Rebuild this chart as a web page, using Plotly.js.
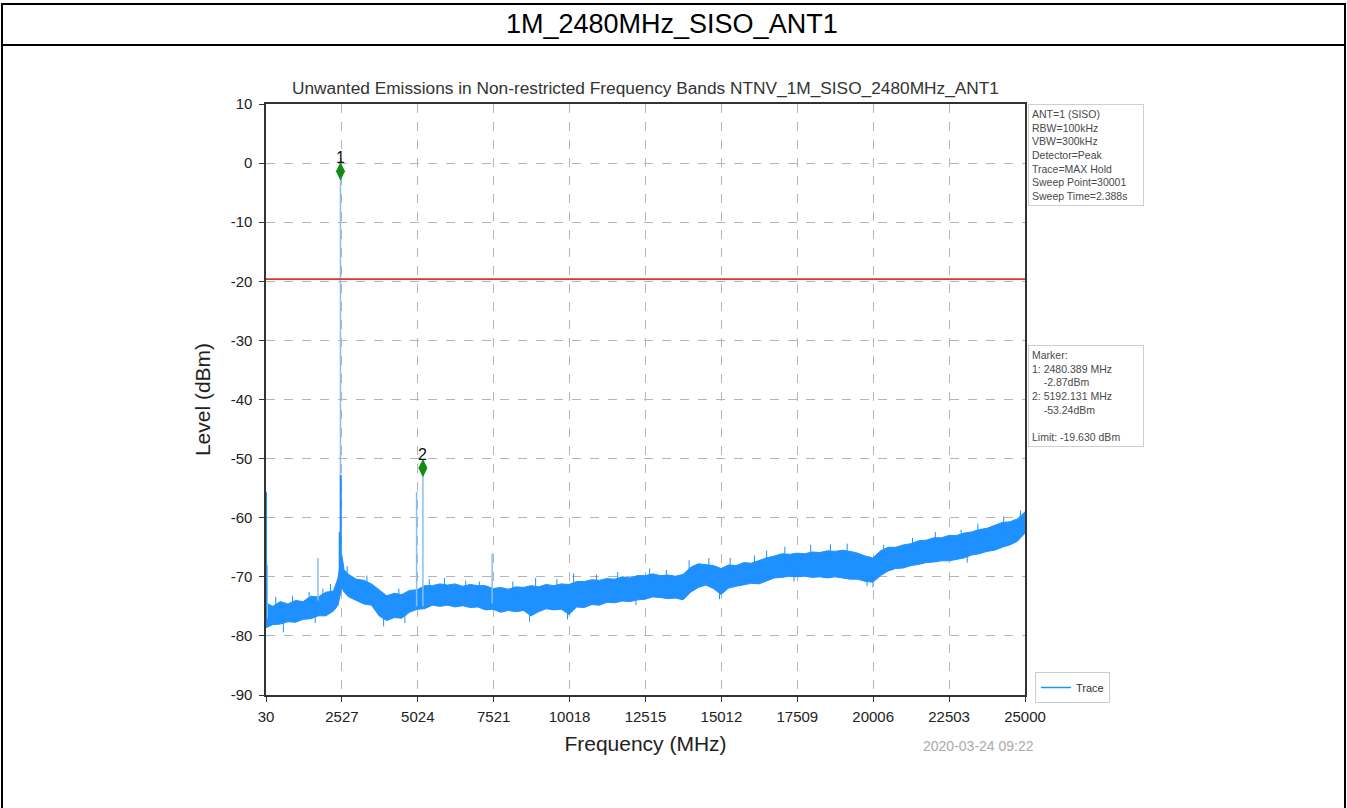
<!DOCTYPE html>
<html>
<head>
<meta charset="utf-8">
<script src="https://cdn.plot.ly/plotly-3.0.1.min.js"></script>
<style>
html,body{margin:0;padding:0;background:#fff;}
#chart{width:1347px;height:808px;}
</style>
</head>
<body>
<div id="chart"></div>
<script>
// ---- data ----
const pageTitle = "1M_2480MHz_SISO_ANT1";
const chartTitle = "Unwanted Emissions in Non-restricted Frequency Bands NTNV_1M_SISO_2480MHz_ANT1";
const xTickVals = [30, 2527, 5024, 7521, 10018, 12515, 15012, 17509, 20006, 22503, 25000];
const yTickVals = [-90, -80, -70, -60, -50, -40, -30, -20, -10, 0, 10];
const yTickText = ["-90", "-80", "-70", "-60", "-50", "-40", "-30", "-20", "-10", "0", "10"];

// noise floor band (MHz) with its upper and lower edges (dBm)
const bandFreq = [
  30, 250, 500, 750, 1000, 1250, 1500, 1750, 2000, 2250,
  2400, 2470, 2520, 2600, 2750, 3000, 3250, 3500, 3750, 4000,
  4250, 4500, 4750, 5000, 5250, 5500, 5750, 6000, 6250, 6500,
  6750, 7000, 7250, 7500, 7750, 8000, 8250, 8500, 8750, 9000,
  9250, 9500, 9750, 10000, 10250, 10500, 10750, 11000, 11250, 11500,
  11750, 12000, 12250, 12500, 12750, 13000, 13250, 13500, 13750, 14000,
  14250, 14500, 14750, 15000, 15250, 15500, 15750, 16000, 16250, 16500,
  16750, 17000, 17250, 17500, 17750, 18000, 18250, 18500, 18750, 19000,
  19250, 19500, 19750, 20000, 20250, 20500, 20750, 21000, 21250, 21500,
  21750, 22000, 22250, 22500, 22750, 23000, 23250, 23500, 23750, 24000,
  24250, 24500, 24750, 25000];
const bandUpper = [
  -74.4, -75.0, -74.2, -74.6, -74.0, -74.2, -73.3, -73.4, -72.6, -72.4,
  -70.2, -68.0, -66.2, -68.8, -69.6, -70.4, -70.6, -71.2, -72.2, -73.2,
  -72.8, -73.0, -72.3, -72.2, -71.5, -71.5, -71.2, -71.4, -71.2, -71.6,
  -71.3, -71.5, -71.5, -72.0, -71.8, -72.1, -71.7, -71.8, -71.5, -71.7,
  -71.3, -71.5, -71.2, -71.3, -70.8, -70.8, -70.5, -70.6, -70.3, -70.4,
  -70.0, -70.2, -69.8, -69.8, -69.5, -69.8, -69.7, -69.9, -69.6, -68.4,
  -67.8, -68.0, -68.1, -68.6, -68.0, -68.1, -67.6, -67.7, -67.2, -66.8,
  -66.5, -66.1, -66.2, -66.0, -66.1, -65.8, -65.9, -65.6, -65.7, -65.5,
  -65.7, -66.0, -66.5, -66.8, -65.6, -65.0, -65.0, -64.6, -64.4, -63.9,
  -63.8, -63.4, -63.4, -63.0, -63.0, -62.6, -62.4, -62.0, -61.8, -61.3,
  -60.8, -60.7, -60.2, -59.0];
const bandLower = [
  -78.6, -78.1, -78.0, -77.6, -77.7, -77.2, -77.1, -76.6, -76.6, -75.8,
  -74.8, -73.0, -71.8, -72.6, -73.4, -74.0, -74.6, -74.8, -76.6, -77.4,
  -76.9, -77.0, -76.0, -75.5, -75.4, -74.8, -75.0, -74.8, -75.1, -74.9,
  -75.2, -75.1, -75.6, -75.5, -76.0, -75.7, -75.9, -75.7, -76.6, -75.9,
  -75.4, -75.6, -75.5, -76.4, -75.1, -75.2, -74.7, -74.8, -74.3, -74.4,
  -74.1, -74.2, -73.9, -73.8, -73.4, -73.5, -73.7, -73.6, -73.9, -72.6,
  -71.8, -71.4, -72.0, -73.0, -71.9, -71.6, -71.4, -71.1, -71.2, -70.7,
  -70.2, -70.1, -69.9, -70.0, -69.9, -70.1, -70.0, -70.2, -70.0, -70.2,
  -70.4, -70.4, -70.8, -70.9, -69.8, -69.0, -68.6, -68.5, -68.1, -67.9,
  -67.6, -67.5, -67.3, -67.3, -67.0, -66.8, -66.3, -66.1, -65.7, -65.5,
  -65.0, -64.6, -64.0, -62.6];

// small noise peaks above the band (MHz, top dBm, foot dBm)
const grassFreq = [350, 900, 1450, 1900, 2150, 2700, 3350, 4400, 5400, 5900, 6600, 7050, 8150, 8900, 9600, 10150, 10900, 11600, 12650, 13200, 13950, 14600, 15300, 16100, 16500, 17100, 17950, 18600, 19150, 20350, 21300, 22050, 22900, 23450, 24300, 24850];
const grassTop  = [-73.4, -73.2, -72.6, -72.0, -71.2, -68.2, -69.8, -72.0, -70.4, -70.2, -70.6, -70.8, -70.8, -70.2, -70.4, -69.4, -69.6, -69.2, -68.6, -68.8, -67.2, -66.8, -66.8, -66.4, -65.6, -64.9, -64.6, -64.5, -64.4, -64.6, -63.4, -62.4, -62.0, -61.0, -59.8, -58.8];
const grassFoot = [-76.0, -76.0, -75.5, -75.0, -74.0, -71.5, -73.0, -75.0, -73.5, -73.5, -73.5, -73.5, -74.0, -73.5, -73.5, -72.5, -72.5, -72.0, -71.5, -71.5, -70.5, -70.0, -70.0, -69.5, -69.0, -68.5, -68.0, -68.0, -68.0, -67.5, -66.5, -65.5, -65.0, -64.5, -63.5, -62.0];
// small dips below the band (MHz, bottom dBm, foot dBm)
const dipFreq   = [600, 1650, 3900, 4600, 8700, 9950, 12200, 14950, 17400, 19800, 20000, 23100];
const dipBottom = [-79.4, -77.8, -78.4, -77.8, -77.6, -77.2, -74.8, -73.8, -70.8, -71.6, -71.8, -67.6];
const dipFoot   = [-76.5, -75.0, -75.5, -75.0, -74.5, -74.5, -72.0, -71.0, -68.5, -69.0, -69.0, -65.0];

// narrow spurs: frequency, top and foot level
const spurFreq = [70, 1740, 2480, 4985, 5192, 7470];
const spurTop  = [-68.0, -66.8, -2.0, -55.6, -51.6, -66.0];
const spurFoot = [-77.0, -74.0, -72.0, -75.0, -75.0, -74.5];
// darker (denser) parts: start edge and carrier skirt
const skirtFreq = [30, 2455, 2490];
const skirtTop  = [-55.6, -62.4, -52.8];
const skirtFoot = [-77.5, -73.0, -72.0];

// markers
const markerFreq = [2480.389, 5192.131];
const markerPlotLevel = [-1.4, -51.6];
const markerLabel = ["1", "2"];
const limitLevel = -19.630;

const infoLines = ["ANT=1 (SISO)", "RBW=100kHz", "VBW=300kHz", "Detector=Peak", "Trace=MAX Hold", "Sweep Point=30001", "Sweep Time=2.388s"];
const markerLines = ["Marker:", "1: 2480.389 MHz", "    -2.87dBm", "2: 5192.131 MHz", "    -53.24dBm", " ", "Limit: -19.630 dBm"];
const dateStamp = "2020-03-24 09:22";

// ---- layout helpers (pixel -> paper) ----
const W = 1347, H = 808;
const PL = 266, PR = 1025, PT = 104, PB = 695;
const px2x = p => (p - PL) / (PR - PL);
const py2y = p => (PB - p) / (PB - PT);

function segs(fr, top, foot) {
  const x = [], y = [];
  for (let i = 0; i < fr.length; i++) { x.push(fr[i], fr[i], null); y.push(foot[i], top[i], null); }
  return {x, y};
}

const BLUE = '#1E90FF';
const font = "Arial, 'Liberation Sans', sans-serif";
const sp = segs(spurFreq, spurTop, spurFoot);
const sk = segs(skirtFreq, skirtTop, skirtFoot);
const gr = segs(grassFreq, grassTop, grassFoot);
const dp = segs(dipFreq, dipBottom, dipFoot);

const traces = [
  {x: bandFreq, y: bandUpper, mode: 'lines', line: {color: BLUE, width: 1}, showlegend: false, hoverinfo: 'skip'},
  {x: bandFreq, y: bandLower, mode: 'lines', fill: 'tonexty', fillcolor: BLUE, line: {color: BLUE, width: 1}, showlegend: false, hoverinfo: 'skip'},
  {x: gr.x, y: gr.y, mode: 'lines', line: {color: BLUE, width: 1}, showlegend: false, connectgaps: false, hoverinfo: 'skip'},
  {x: dp.x, y: dp.y, mode: 'lines', line: {color: BLUE, width: 1}, showlegend: false, connectgaps: false, hoverinfo: 'skip'},
  {x: sp.x, y: sp.y, mode: 'lines', line: {color: '#86c0f3', width: 1.5}, showlegend: false, connectgaps: false, hoverinfo: 'skip'},
  {x: sk.x, y: sk.y, mode: 'lines', line: {color: BLUE, width: 2}, showlegend: false, connectgaps: false, hoverinfo: 'skip'},
  {x: [xTickVals[0], xTickVals[xTickVals.length - 1]], y: [limitLevel, limitLevel], mode: 'lines', line: {color: '#e03530', width: 1.6}, showlegend: false, hoverinfo: 'skip'},
  {x: markerFreq, y: markerPlotLevel, mode: 'markers',
   marker: {symbol: 'diamond-tall', size: 13, color: '#138a13', line: {width: 0}}, showlegend: false, hoverinfo: 'skip'},
  {x: [null], y: [null], mode: 'lines', name: 'Trace', line: {color: BLUE, width: 1.5}, showlegend: true, hoverinfo: 'skip'}
];

const markerNotes = markerFreq.map((f, i) => ({
  text: markerLabel[i], x: f, y: markerPlotLevel[i], xref: 'x', yref: 'y', yshift: 14,
  xanchor: 'center', yanchor: 'middle', showarrow: false, font: {family: font, size: 16, color: '#111'}
}));

const layout = {
  width: W, height: H,
  margin: {l: PL, r: W - PR, t: PT, b: H - PB, pad: 0},
  paper_bgcolor: '#fff', plot_bgcolor: '#fff',
  font: {family: font, color: '#222'},
  title: {text: chartTitle, font: {family: font, size: 17.3, color: '#333'}, xref: 'paper', x: 0.5, xanchor: 'center', yref: 'container', y: 1 - 88 / H, yanchor: 'middle'},
  xaxis: {range: [xTickVals[0], xTickVals[xTickVals.length - 1]], tickmode: 'array', tickvals: xTickVals, ticktext: xTickVals.map(String),
    showgrid: true, gridcolor: '#b5b5b5', griddash: 'dash', gridwidth: 1, zeroline: false,
    showline: true, linecolor: '#333', linewidth: 1.6, mirror: true, ticks: 'outside', ticklen: 5, tickcolor: '#333',
    ticklabelstandoff: 2,
    tickfont: {family: font, size: 15, color: '#222'},
    title: {text: 'Frequency (MHz)', font: {family: font, size: 21, color: '#222'}, standoff: 13}},
  yaxis: {range: [yTickVals[0], yTickVals[yTickVals.length - 1]], tickmode: 'array', tickvals: yTickVals, ticktext: yTickText,
    showgrid: true, gridcolor: '#b5b5b5', griddash: 'dash', gridwidth: 1, zeroline: false,
    showline: true, linecolor: '#333', linewidth: 1.6, mirror: true, ticks: 'outside', ticklen: 5, tickcolor: '#333',
    ticklabelstandoff: 4,
    tickfont: {family: font, size: 15, color: '#222'},
    title: {text: 'Level (dBm)', font: {family: font, size: 21, color: '#222'}, standoff: 14}},
  showlegend: true,
  legend: {x: px2x(1035), y: py2y(672), xanchor: 'left', yanchor: 'top', bgcolor: '#fff', bordercolor: '#ccc', borderwidth: 1,
    font: {family: font, size: 11, color: '#333'}, itemwidth: 30, tracegroupgap: 0},
  shapes: [
    {type: 'rect', xref: 'paper', yref: 'paper', x0: px2x(2), x1: px2x(1345), y0: py2y(4), y1: py2y(840), line: {color: '#000', width: 2}, fillcolor: 'rgba(0,0,0,0)'},
    {type: 'line', xref: 'paper', yref: 'paper', x0: px2x(2), x1: px2x(1345), y0: py2y(45), y1: py2y(45), line: {color: '#000', width: 2}}
  ],
  annotations: markerNotes.concat([
    {text: pageTitle, xref: 'paper', yref: 'paper', x: px2x(672), y: py2y(24), xanchor: 'center', yanchor: 'middle', showarrow: false,
     font: {family: font, size: 27, color: '#000'}},
    {text: infoLines.join('<br>'), xref: 'paper', yref: 'paper', x: px2x(1028), y: py2y(104), xanchor: 'left', yanchor: 'top', showarrow: false, align: 'left',
     width: 108, font: {family: font, size: 10.5, color: '#4a4a4a'}, bordercolor: '#cfcfcf', borderwidth: 1, borderpad: 3, bgcolor: '#fff'},
    {text: markerLines.join('<br>'), xref: 'paper', yref: 'paper', x: px2x(1028), y: py2y(345), xanchor: 'left', yanchor: 'top', showarrow: false, align: 'left',
     width: 108, font: {family: font, size: 10.5, color: '#4a4a4a'}, bordercolor: '#cfcfcf', borderwidth: 1, borderpad: 3, bgcolor: '#fff'},
    {text: dateStamp, xref: 'paper', yref: 'paper', x: px2x(978), y: py2y(746), xanchor: 'center', yanchor: 'middle', showarrow: false,
     font: {family: font, size: 14, color: '#aaa'}}
  ])
};

Plotly.newPlot('chart', traces, layout, {displayModeBar: false, staticPlot: true});
</script>
</body>
</html>
